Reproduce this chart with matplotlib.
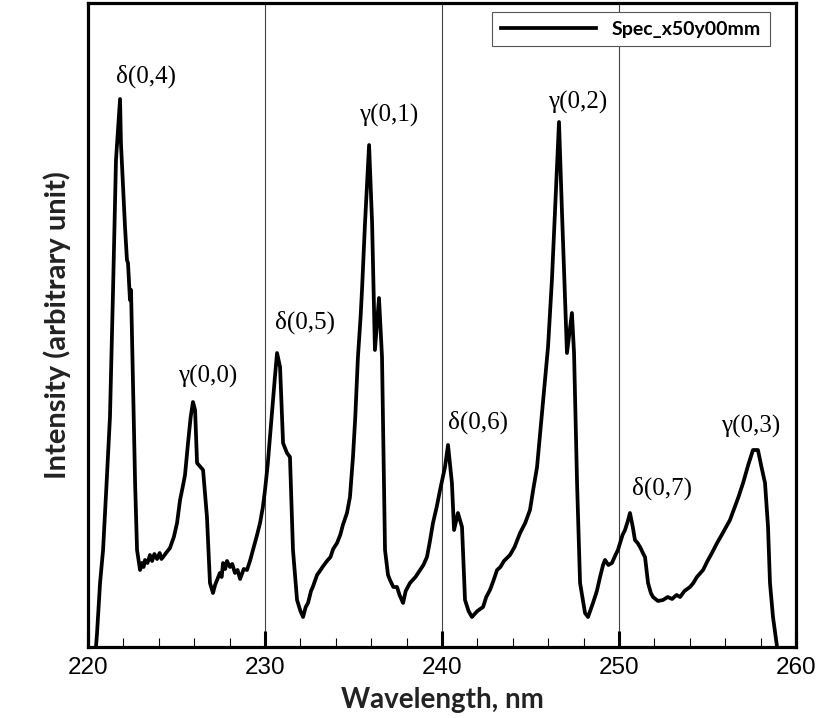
import matplotlib
matplotlib.use("Agg")
import matplotlib.pyplot as plt
from matplotlib.ticker import MultipleLocator, NullLocator

# spectrum (wavelength in nm, intensity in arbitrary units)
wavelength = [
    220.45, 220.51, 220.68, 220.85, 221.05, 221.24, 221.41, 221.58, 221.81, 221.86,
    222.09, 222.20, 222.26, 222.37, 222.43, 222.54, 222.66, 222.77, 222.94, 223.05,
    223.14, 223.22, 223.36, 223.50, 223.62, 223.75, 223.90, 224.05, 224.15, 224.24,
    224.45, 224.63, 224.85, 225.03, 225.20, 225.35, 225.48, 225.65, 225.80, 225.93,
    226.05, 226.16, 226.35, 226.50, 226.72, 226.89, 227.06, 227.18, 227.29, 227.45,
    227.55, 227.63, 227.75, 227.85, 228.02, 228.15, 228.30, 228.45, 228.59, 228.80,
    228.98, 229.15, 229.32, 229.55, 229.72, 229.88, 230.00, 230.15, 230.28, 230.42,
    230.56, 230.68, 230.85, 231.02, 231.24, 231.41, 231.58, 231.81, 232.00, 232.15,
    232.30, 232.43, 232.60, 232.70, 232.94, 233.10, 233.25, 233.50, 233.70, 233.85,
    234.07, 234.25, 234.40, 234.63, 234.80, 234.97, 235.10, 235.25, 235.40, 235.48,
    235.65, 235.88, 236.05, 236.21, 236.44, 236.61, 236.78, 236.95, 237.06, 237.25,
    237.46, 237.60, 237.80, 237.95, 238.19, 238.50, 238.76, 238.95, 239.15, 239.30,
    239.49, 239.70, 239.89, 240.17, 240.34, 240.56, 240.68, 240.90, 241.13, 241.30,
    241.50, 241.69, 242.00, 242.32, 242.50, 242.71, 242.90, 243.11, 243.30, 243.50,
    243.84, 244.10, 244.41, 244.70, 244.97, 245.15, 245.37, 245.55, 245.71, 245.99,
    246.21, 246.38, 246.61, 246.78, 247.06, 247.34, 247.46, 247.63, 247.80, 248.08,
    248.25, 248.53, 248.75, 248.93, 249.10, 249.21, 249.40, 249.60, 249.80, 249.94,
    250.20, 250.34, 250.50, 250.62, 250.78, 250.90, 251.05, 251.19, 251.35, 251.47,
    251.64, 251.80, 251.92, 252.20, 252.49, 252.75, 253.00, 253.25, 253.45, 253.70,
    254.01, 254.20, 254.40, 254.60, 254.75, 255.00, 255.25, 255.54, 255.80, 256.05,
    256.27, 256.50, 256.75, 257.01, 257.30, 257.57, 257.85, 258.05, 258.25, 258.42,
    258.53, 258.70, 258.93, 258.98]
intensity = [
    0, 14, 64, 97, 164, 230, 354, 487, 548, 504,
    420, 387, 384, 347, 357, 264, 164, 97, 77, 84,
    80, 87, 84, 92, 86, 93, 88, 94, 88, 90,
    95, 99, 110, 124, 147, 160, 172, 204, 230, 245,
    237, 184, 180, 177, 130, 64, 54, 62, 67, 74,
    70, 84, 78, 86, 80, 83, 74, 77, 68, 78,
    77, 86, 97, 112, 124, 140, 157, 182, 210, 240,
    270, 294, 280, 204, 194, 190, 97, 47, 36, 30,
    40, 44, 56, 60, 72, 76, 80, 86, 90, 98,
    104, 112, 122, 134, 150, 190, 230, 290, 330, 357,
    424, 502, 424, 297, 349, 290, 97, 72, 67, 60,
    60, 52, 44, 56, 64, 70, 77, 82, 90, 104,
    124, 140, 157, 180, 202, 164, 117, 134, 120, 47,
    36, 30, 36, 40, 50, 57, 66, 77, 80, 86,
    92, 100, 114, 124, 137, 157, 180, 215, 247, 300,
    367, 434, 525, 434, 294, 334, 294, 164, 64, 34,
    30, 44, 56, 70, 82, 87, 82, 84, 92, 97,
    112, 117, 126, 134, 120, 107, 104, 100, 94, 90,
    64, 54, 50, 46, 47, 50, 48, 52, 50, 56,
    60, 64, 70, 74, 77, 86, 94, 104, 112, 120,
    127, 138, 150, 164, 182, 197, 197, 180, 164, 120,
    64, 30, 0, -10]

band_labels = ["δ(0,4)", "γ(0,0)", "δ(0,5)", "γ(0,1)", "δ(0,6)", "γ(0,2)", "δ(0,7)", "γ(0,3)"]
label_x = [223.28, 226.78, 232.26, 237.01, 242.03, 247.68, 252.43, 257.46]
label_y = [571, 271, 325, 532, 225, 545, 159, 221]

fig = plt.figure(figsize=(8.18, 7.18), dpi=100)
ax = fig.add_axes([0.1076, 0.0989, 0.8655, 0.8969])

ax.plot(wavelength, intensity, color="black", lw=2.7, label="Spec_x50y00mm")

for t, x, y in zip(band_labels, label_x, label_y):
    ax.text(x, y, t, ha="center", va="center", fontsize=18, family="Liberation Serif")

ax.set_xlim(220, 260)
ax.set_ylim(0, 644)
ax.xaxis.set_major_locator(MultipleLocator(10))
ax.xaxis.set_minor_locator(MultipleLocator(2))
ax.yaxis.set_major_locator(NullLocator())
ax.tick_params(axis="x", which="major", direction="in", length=11.5, width=2.2, pad=7,
               labelsize=17.5)
ax.tick_params(axis="x", which="minor", direction="in", length=6.5, width=0.8)
for lbl in ax.get_xticklabels():
    lbl.set_family("Liberation Sans")
ax.grid(axis="x", which="major", color="#444444", lw=0.8)

for s in ax.spines.values():
    s.set_linewidth(2.3)

ax.set_xlabel("Wavelength, nm", fontsize=20, fontweight="bold", family="Lato",
              color="#222222", labelpad=6)
ax.set_ylabel("Intensity (arbitrary unit)", fontsize=21, fontweight="bold", family="Lato",
              color="#222222", labelpad=12)

leg = ax.legend(loc="upper right", bbox_to_anchor=(0.977, 1.0015), handlelength=4.9,
                fancybox=False, framealpha=1, borderpad=0.45,
                prop={"family": "Lato", "weight": "bold", "size": 14})
leg.get_frame().set_edgecolor("#555555")
leg.get_frame().set_linewidth(0.8)

fig.savefig("out.png", dpi=100)
